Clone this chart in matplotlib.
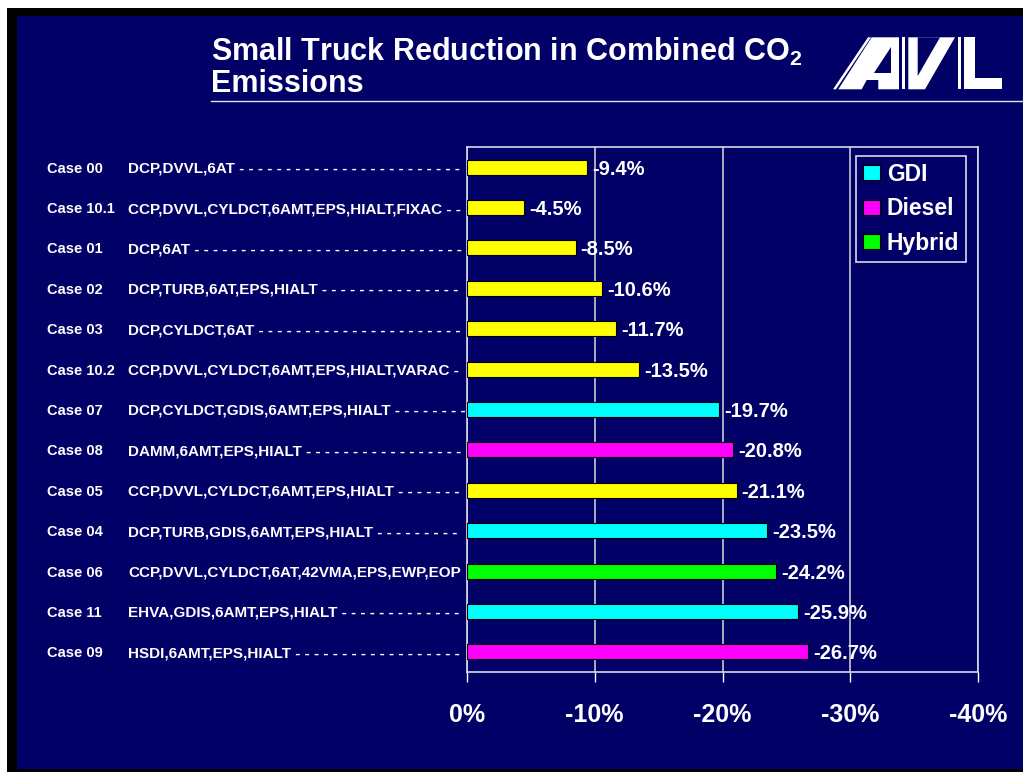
import matplotlib
matplotlib.use('Agg')
import matplotlib.pyplot as plt
from matplotlib.patches import Patch, Polygon, Rectangle
from matplotlib.transforms import blended_transform_factory

plt.rcParams['font.family'] = ['Liberation Sans', 'DejaVu Sans']
plt.rcParams['mathtext.fontset'] = 'custom'
plt.rcParams['mathtext.rm'] = 'Liberation Sans:bold'
plt.rcParams['mathtext.default'] = 'rm'

cases = ['Case 00', 'Case 10.1', 'Case 01', 'Case 02', 'Case 03', 'Case 10.2',
         'Case 07', 'Case 08', 'Case 05', 'Case 04', 'Case 06', 'Case 11', 'Case 09']
configs = [
    'DCP,DVVL,6AT',
    'CCP,DVVL,CYLDCT,6AMT,EPS,HIALT,FIXAC',
    'DCP,6AT',
    'DCP,TURB,6AT,EPS,HIALT',
    'DCP,CYLDCT,6AT',
    'CCP,DVVL,CYLDCT,6AMT,EPS,HIALT,VARAC',
    'DCP,CYLDCT,GDIS,6AMT,EPS,HIALT',
    'DAMM,6AMT,EPS,HIALT',
    'CCP,DVVL,CYLDCT,6AMT,EPS,HIALT',
    'DCP,TURB,GDIS,6AMT,EPS,HIALT',
    'CCP,DVVL,CYLDCT,6AT,42VMA,EPS,EWP,EOP',
    'EHVA,GDIS,6AMT,EPS,HIALT',
    'HSDI,6AMT,EPS,HIALT',
]
reduction = [-9.4, -4.5, -8.5, -10.6, -11.7, -13.5, -19.7, -20.8, -21.1, -23.5, -24.2, -25.9, -26.7]
engine = ['Base', 'Base', 'Base', 'Base', 'Base', 'Base',
          'GDI', 'Diesel', 'Base', 'GDI', 'Hybrid', 'GDI', 'Diesel']
xticks = [0, -10, -20, -30, -40]

colors = {'Base': '#ffff00', 'GDI': '#00ffff', 'Diesel': '#ff00ff', 'Hybrid': '#00ff00'}
legend_items = ['GDI', 'Diesel', 'Hybrid']

navy = '#000066'
W, H = 1023, 772

fig = plt.figure(figsize=(W / 100, H / 100), dpi=100)
fig.patch.set_facecolor('white')

# slide background, drawn in pixel units
bg = fig.add_axes([0, 0, 1, 1], zorder=0)
bg.set_xlim(0, W)
bg.set_ylim(H, 0)
bg.axis('off')
bg.add_patch(Rectangle((7, 8), W - 7, H - 8, facecolor='black', edgecolor='none'))
bg.add_patch(Rectangle((17, 16), W - 17, 753, facecolor=navy, edgecolor='none'))

# title
bg.text(211, 61, 'Small Truck Reduction in Combined CO$_2$', color='white',
        fontsize=22, fontweight='bold', va='baseline', ha='left')
bg.text(211, 92, 'Emissions', color='white', fontsize=22, fontweight='bold',
        va='baseline', ha='left')
bg.plot([211, W], [101, 101], color='#e0e0ff', lw=1)

# logo
ox, oy = 825, 30
logo_white = [
    [(8, 59.3), (11, 59.3), (46, 7.3), (43, 7.3)],
    [(13.3, 59.3), (46.7, 7.3), (74, 7.3), (74, 59.3), (53.3, 59.3),
     (53.3, 50), (41.7, 50), (36.7, 59.3)],
    [(77.3, 7.3), (80, 7.3), (80, 59.3), (77.3, 59.3)],
    [(83.3, 7.3), (130, 7.3), (100, 59.3), (83.3, 59.3)],
    [(133.3, 7.3), (136, 7.3), (136, 59.3), (133.3, 59.3)],
    [(139.3, 7.3), (150, 7.3), (150, 48.3), (176.7, 48.3), (176.7, 59.3), (139.3, 59.3)],
]
logo_holes = [
    [(66, 16.7), (66, 43.3), (49.3, 43.3)],
    [(92.7, 7.3), (115, 7.3), (92.7, 46)],
]
for pts in logo_white:
    bg.add_patch(Polygon([(ox + x, oy + y) for x, y in pts], closed=True,
                         facecolor='white', edgecolor='none'))
for pts in logo_holes:
    bg.add_patch(Polygon([(ox + x, oy + y) for x, y in pts], closed=True,
                         facecolor=navy, edgecolor='none'))

# chart
x0, x1, y0, y1 = 467, 978, 147, 672
ax = fig.add_axes([x0 / W, 1 - y1 / H, (x1 - x0) / W, (y1 - y0) / H], zorder=1)
ax.set_facecolor('none')

ypos = list(range(len(cases)))
ax.barh(ypos, reduction, height=0.37, color=[colors[e] for e in engine],
        edgecolor='black', linewidth=0.8, zorder=3)
for y, v in zip(ypos, reduction):
    ax.text(v - 0.4, y, f'{v:.1f}%', color='white', fontsize=14.5,
            fontweight='bold', va='center_baseline', ha='left', zorder=4)

ax.set_xlim(0, -40)
ax.set_ylim(len(cases) - 0.5, -0.5)
ax.set_xticks(xticks)
ax.set_xticklabels([f'{t}%' for t in xticks])
ax.set_yticks([])
ax.tick_params(axis='x', direction='out', length=7, width=1, color='white',
               labelcolor='white', labelsize=18, pad=15)
for lab in ax.get_xticklabels():
    lab.set_fontweight('bold')
for s in ax.spines.values():
    s.set_color('#d8d8e8')
    s.set_linewidth(1.2)
ax.grid(axis='x', color='#b8b8c8', lw=1.3, zorder=1)

handles = [Patch(facecolor=colors[k], edgecolor='black', lw=0.8) for k in legend_items]
leg = ax.legend(handles, legend_items, loc='upper left', bbox_to_anchor=(0.761, 0.983),
                borderaxespad=0, frameon=True, fancybox=False, framealpha=1,
                facecolor=navy, edgecolor='#d8d8e8', fontsize=16.5,
                handlelength=0.75, handleheight=0.65, handletextpad=0.3,
                labelspacing=0.5, borderpad=0.3)
for t in leg.get_texts():
    t.set_color('white')
    t.set_fontweight('bold')
leg.get_frame().set_linewidth(1.2)

# row labels with dash leaders up to the axis
trans = blended_transform_factory(bg.transData, ax.transData)
renderer = fig.canvas.get_renderer()
for y, case, cfg in zip(ypos, cases, configs):
    fig.text(47, y, case, transform=trans, color='white', fontsize=10.5,
             fontweight='bold', va='center_baseline', ha='left')
    t = fig.text(128, y, cfg, transform=trans, color='white', fontsize=11,
                 fontweight='bold', va='center_baseline', ha='left')
    label = cfg
    while True:
        t.set_text(label + ' -')
        if t.get_window_extent(renderer).x1 > x0 - 1:
            break
        label += ' -'
    t.set_text(label)

fig.savefig('out.png', dpi=100, facecolor=fig.get_facecolor())
